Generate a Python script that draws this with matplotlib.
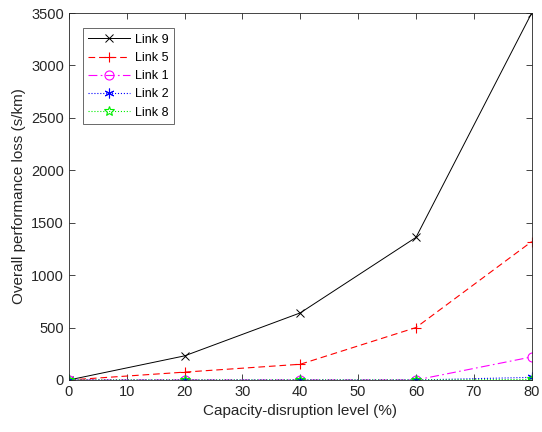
import matplotlib
matplotlib.use("Agg")
import matplotlib.pyplot as plt

plt.rcParams['font.family'] = ['Liberation Sans', 'DejaVu Sans']

# Данные
levels = [0, 20, 40, 60, 80]
link9 = [0, 230, 640, 1360, 3500]
link5 = [0, 75, 150, 500, 1320]
link1 = [0, 0, 0, 0, 220]
link2 = [0, 0, 0, 0, 25]
link8 = [0, 0, 0, 0, 5]

fig = plt.figure(figsize=(5.42, 4.32), dpi=100)
ax = fig.add_axes([0.127, 0.1204, 0.854, 0.8495])

ax.plot(levels, link9, color='black', linestyle='-', marker='x', lw=0.7, ms=5.5, mew=0.7, label='Link 9')
ax.plot(levels, link5, color='red', linestyle=(0, (6, 3.5)), marker='+', lw=0.8, ms=7, mew=0.8, label='Link 5')
ax.plot(levels, link1, color='magenta', linestyle=(0, (8, 3, 1.5, 3)), marker='o', lw=0.8, ms=6.5,
        mew=0.8, mfc='none', label='Link 1')
ax.plot(levels, link2, color='blue', linestyle=':', marker=(6, 2, 0), lw=0.8, ms=7, mew=0.8, label='Link 2')
ax.plot(levels, link8, color='#00ee00', linestyle=':', marker='*', lw=0.8, ms=7, mew=0.8,
        mfc='none', label='Link 8')

ax.set_xlim(0, 80)
ax.set_ylim(0, 3500)
ax.set_xticks(range(0, 81, 10))
ax.set_yticks(range(0, 3501, 500))
ax.tick_params(direction='in', length=4, width=0.6, labelsize=10.5, colors='#262626',
               top=True, right=True)
for s in ax.spines.values():
    s.set_linewidth(0.6)
    s.set_color('#262626')

ax.set_xlabel('Capacity-disruption level (%)', fontsize=11, color='#262626')
ax.set_ylabel('Overall performance loss (s/km)', fontsize=11, color='#262626')

leg = ax.legend(loc='upper left', bbox_to_anchor=(0.03, 0.959), borderaxespad=0, fontsize=9,
                fancybox=False, edgecolor='#262626', handlelength=3.3, borderpad=0.45,
                labelspacing=0.5, handletextpad=0.45)
leg.get_frame().set_linewidth(0.6)

fig.savefig('out.png', dpi=100)
